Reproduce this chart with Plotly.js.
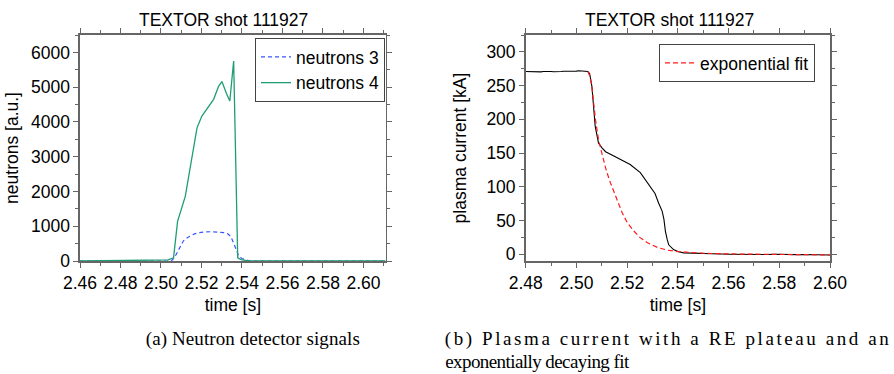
<!DOCTYPE html>
<html>
<head>
<meta charset="utf-8">
<script src="https://cdn.plot.ly/plotly-3.0.1.min.js"></script>
<style>html,body{margin:0;padding:0;background:#fff;}#chart{width:894px;height:374px;}</style>
</head>
<body>
<div id="chart"></div>
<script>
// ---------- data ----------
const n3_t = [2.460, 2.5050, 2.5065, 2.5080, 2.5095, 2.5111, 2.5130, 2.5145, 2.5165, 2.5190, 2.5220, 2.5250, 2.5280, 2.5310, 2.5330, 2.5345, 2.5360, 2.5372, 2.5384, 2.5400, 2.5420, 2.5440, 2.611];
const n3_v = [0, 0, 80, 250, 420, 580, 670, 720, 780, 815, 840, 842, 832, 815, 780, 700, 500, 300, 140, 70, 30, 0, 0];

const n4_t = [2.460, 2.5035, 2.5062, 2.5082, 2.5120, 2.5178, 2.5202, 2.5260, 2.5285, 2.5301, 2.5322, 2.5340, 2.5359, 2.5379, 2.5396, 2.5430, 2.611];
const n4_v = [0, 30, 90, 1140, 1860, 3830, 4170, 4650, 5030, 5160, 4840, 4600, 5750, 90, 40, 0, 0];

const ip_t = [2.480, 2.481, 2.482, 2.483, 2.484, 2.485, 2.486, 2.487, 2.488, 2.489, 2.490, 2.491, 2.492, 2.493, 2.494, 2.495, 2.496, 2.497, 2.498, 2.499, 2.500, 2.501, 2.502, 2.503, 2.504,
              2.5045, 2.5052, 2.5061, 2.5074, 2.5087, 2.5100, 2.5115, 2.5140, 2.5170, 2.5212, 2.5252, 2.5291, 2.5310, 2.5324, 2.5338, 2.5345, 2.5351, 2.5358, 2.5364, 2.5383, 2.5400, 2.5423, 2.5450,
              2.548, 2.551, 2.554, 2.557, 2.560, 2.563, 2.566, 2.569, 2.572, 2.575, 2.578, 2.581, 2.584, 2.587, 2.590, 2.593, 2.596, 2.599, 2.600];
const ip_v = [270.8, 270.6, 271.0, 270.7, 270.9, 270.5, 270.3, 270.8, 271.2, 270.9, 271.0, 270.6, 271.1, 271.4, 271.0, 271.3, 271.2, 271.6, 271.4, 271.8, 271.5, 272.0, 271.7, 272.2, 271.9,
              271, 268, 249, 190, 165, 158, 152, 147, 141, 133, 121, 101, 90, 76, 64, 52, 34, 22, 14, 7, 4, 2, 1.5,
              1.2, 0.8, 0.5, 0.3, 0.1, -0.2, 0.2, -0.3, 0.0, -0.4, -0.1, -0.5, -0.2, -0.6, -0.3, -0.7, -0.5, -0.9, -1.0];

const fit_t = [2.5045, 2.5055, 2.5062, 2.5075, 2.5087, 2.5098, 2.5115, 2.5130, 2.5145, 2.5160, 2.5180, 2.5200, 2.5225, 2.5250, 2.5280, 2.5320, 2.5360, 2.5400, 2.5450, 2.5500, 2.5600, 2.5700, 2.5800, 2.5900, 2.6000];
const fit_v = [271, 262, 245, 200, 170, 152, 128, 110, 95, 81, 62, 47, 35, 25, 17, 10, 6, 4, 2.5, 1.5, 0.5, 0, -0.5, -0.8, -1];

const plotTitle = 'TEXTOR shot 111927';
const xTitle = 'time [s]';
const yTitleL = 'neutrons [a.u.]';
const yTitleR = 'plasma current [kA]';
const captionA = '(a) Neutron detector signals';
const captionB1 = '(b) Plasma current with a RE plateau and an';
const captionB2 = 'exponentially decaying fit';

// ---------- layout helpers ----------
const W = 894, H = 374;
const M = {l: 80, r: 64, t: 35, b: 113};
const PW = W - M.l - M.r, PH = H - M.t - M.b;
const px = x => (x - M.l) / PW;
const py = y => (H - M.b - y) / PH;

const SANS = 'Liberation Sans, Arial, sans-serif';
const SERIF = 'Liberation Serif, Times New Roman, serif';
const FRAME = '#666666';
const FS = 17.5;

function axisBase(extra) {
  return Object.assign({
    showline: true, linecolor: FRAME, linewidth: 1.6, mirror: 'ticks',
    ticks: 'outside', ticklen: 5, tickwidth: 1, tickcolor: FRAME,
    showgrid: false, zeroline: false, automargin: false,
    tickfont: {family: SANS, size: FS, color: '#000'}
  }, extra);
}

const traces = [
  {x: n3_t, y: n3_v, xaxis: 'x', yaxis: 'y', mode: 'lines', name: 'neutrons 3',
   line: {color: '#3a55ff', width: 1.2, dash: '4px,3px'}, legend: 'legend'},
  {x: n4_t, y: n4_v, xaxis: 'x', yaxis: 'y', mode: 'lines', name: 'neutrons 4',
   line: {color: '#1d9e72', width: 1.3}, legend: 'legend'},
  {x: ip_t, y: ip_v, xaxis: 'x2', yaxis: 'y2', mode: 'lines', name: 'plasma current',
   line: {color: '#000', width: 1.1}, showlegend: false},
  {x: fit_t, y: fit_v, xaxis: 'x2', yaxis: 'y2', mode: 'lines', name: 'exponential fit',
   line: {color: '#ff1a1a', width: 1.2, dash: '5px,3px'}, legend: 'legend2'}
];

const layout = {
  width: W, height: H, margin: M,
  paper_bgcolor: '#fff', plot_bgcolor: '#fff',
  font: {family: SANS, size: FS, color: '#000'},
  xaxis: axisBase({domain: [0, px(385.7)], range: [2.46, 2.611], tick0: 2.46, dtick: 0.02, tickformat: '.2f',
    minor: {dtick: 0.01, ticks: 'outside', ticklen: 3, tickcolor: FRAME},
    title: {text: xTitle, font: {family: SANS, size: FS}, standoff: 7}, anchor: 'y'}),
  yaxis: axisBase({domain: [0, 1], range: [0, 6500], tick0: 0, dtick: 1000,
    minor: {dtick: 500, ticks: 'outside', ticklen: 3, tickcolor: FRAME},
    title: {text: yTitleL, font: {family: SANS, size: FS}, standoff: 8}, anchor: 'x'}),
  xaxis2: axisBase({domain: [px(525.7), 1], range: [2.48, 2.60], tick0: 2.48, dtick: 0.02, tickformat: '.2f',
    minor: {dtick: 0.01, ticks: 'outside', ticklen: 3, tickcolor: FRAME},
    title: {text: xTitle, font: {family: SANS, size: FS}, standoff: 7}, anchor: 'y2'}),
  yaxis2: axisBase({domain: [0, 1], range: [-10, 325], tick0: 0, dtick: 50,
    minor: {dtick: 25, ticks: 'outside', ticklen: 3, tickcolor: FRAME},
    title: {text: yTitleR, font: {family: SANS, size: FS}, standoff: 15}, anchor: 'x2'}),
  legend: {x: px(385), y: py(38), xanchor: 'right', yanchor: 'top', bgcolor: '#fff',
    bordercolor: '#444', borderwidth: 1, font: {family: SANS, size: FS}, tracegroupgap: 0},
  legend2: {x: px(659), y: py(44), xanchor: 'left', yanchor: 'top', bgcolor: '#fff',
    bordercolor: '#444', borderwidth: 1, font: {family: SANS, size: FS}},
  annotations: [
    {text: plotTitle, xref: 'paper', yref: 'paper', x: px(223), y: py(20), xanchor: 'center', yanchor: 'middle',
     showarrow: false, font: {family: SANS, size: FS}},
    {text: plotTitle, xref: 'paper', yref: 'paper', x: px(669), y: py(20), xanchor: 'center', yanchor: 'middle',
     showarrow: false, font: {family: SANS, size: FS}},
    {text: captionA, xref: 'paper', yref: 'paper', x: px(253), y: py(339), xanchor: 'center', yanchor: 'middle',
     showarrow: false, font: {family: SERIF, size: 19}},
    {text: captionB1, xref: 'paper', yref: 'paper', x: px(667), y: py(339), xanchor: 'center', yanchor: 'middle',
     showarrow: false, font: {family: SERIF, size: 19}},
    {text: captionB2, xref: 'paper', yref: 'paper', x: px(537), y: py(361), xanchor: 'center', yanchor: 'middle',
     showarrow: false, font: {family: SERIF, size: 19}}
  ],
  showlegend: true
};

Plotly.newPlot('chart', traces, layout, {staticPlot: true, displayModeBar: false}).then(() => {
  document.querySelectorAll('text.annotation-text').forEach(el => {
    const t = el.textContent;
    if (t === captionB1) { el.setAttribute('textLength', 444); el.setAttribute('lengthAdjust', 'spacing'); }
    if (t === captionA) { el.setAttribute('textLength', 214); el.setAttribute('lengthAdjust', 'spacing'); }
    if (t === captionB2) { el.setAttribute('textLength', 184); el.setAttribute('lengthAdjust', 'spacing'); }
  });
});
</script>
</body>
</html>
